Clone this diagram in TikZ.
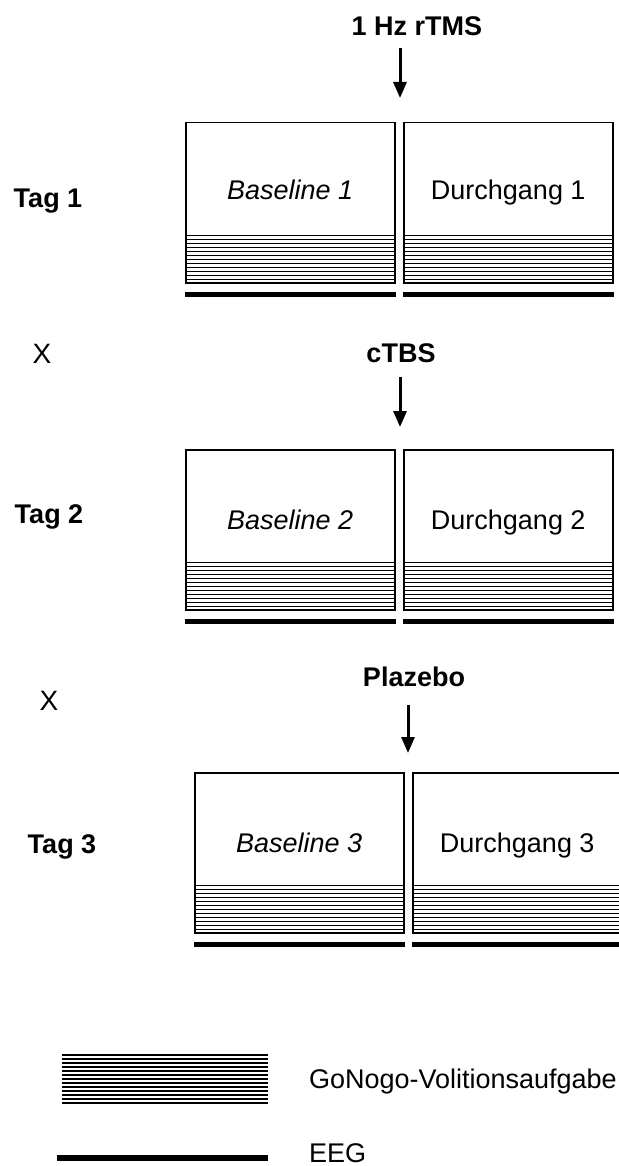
\documentclass[tikz,border=0pt]{standalone}
\usepackage{fontspec}
\setmainfont{Liberation Sans}
\usetikzlibrary{arrows.meta}

\begin{document}
\begin{tikzpicture}[x=0.5pt, y=-0.5pt,
  every node/.style={font=\fontsize{13.5}{16}\selectfont},
  block/.style={draw, line width=0.75pt, fill=white, inner sep=0pt,
    minimum width=104.5pt, minimum height=80pt, anchor=north west},
  hline/.style={line width=0.8pt},
  eeg/.style={line width=2.8pt},
  pfeil/.style={-{Triangle[width=6.5pt,length=8pt]}, line width=1.5pt},
  tag/.style={font=\fontsize{13.5}{16}\selectfont\bfseries, anchor=base},
  txt/.style={anchor=base}]
\useasboundingbox (0,0) rectangle (619,1166);
\clip (0,0) rectangle (619,1166);

% Tag 1
\node[tag] (stim1) at (417,36) {1 Hz rTMS};
\coordinate (s1) at (400,48);
\coordinate (e1) at (400,98);
\draw[pfeil] (s1) -- (e1);
\node[tag] (tag1) at (48,208) {Tag 1};
\node[block] (b11) at (185,122) {};
\node[block] (b12) at (403,122) {};

\node[txt, font=\fontsize{14}{16}\selectfont] (x1) at (42,363) {X};

% Tag 2
\node[tag] (stim2) at (401,362) {cTBS};
\coordinate (s2) at (400,377);
\coordinate (e2) at (400,427);
\draw[pfeil] (s2) -- (e2);
\node[tag] (tag2) at (49,523) {Tag 2};
\node[block] (b21) at (185,449) {};
\node[block] (b22) at (403,449) {};

\node[txt, font=\fontsize{14}{16}\selectfont] (x2) at (49,710) {X};

% Tag 3
\node[tag] (stim3) at (414,686) {Plazebo};
\coordinate (s3) at (408,705);
\coordinate (e3) at (408,753);
\draw[pfeil] (s3) -- (e3);
\node[tag] (tag3) at (62,853) {Tag 3};
\node[block] (b31) at (194,772) {};
\node[block] (b32) at (412,772) {};

% Aufgabe (schraffiert) und EEG-Balken
\foreach \b in {b11,b12,b21,b22,b31,b32} {
  \foreach \k in {0,...,12}
    \draw[hline] ([yshift=\k*2pt]\b.south west) -- ([yshift=\k*2pt]\b.south east);
  \draw[eeg] ([yshift=-5.5pt]\b.south west) -- ([yshift=-5.5pt]\b.south east);
}

\node[txt] (t11) at ([yshift=-39pt]b11.north) {\itshape Baseline 1};
\node[txt] (t12) at ([yshift=-39pt]b12.north) {Durchgang 1};
\node[txt] (t21) at ([yshift=-40pt]b21.north) {\itshape Baseline 2};
\node[txt] (t22) at ([yshift=-40pt]b22.north) {Durchgang 2};
\node[txt] (t31) at ([yshift=-40pt]b31.north) {\itshape Baseline 3};
\node[txt] (t32) at ([yshift=-40pt]b32.north) {Durchgang 3};

% Legende
\foreach \k in {0,...,12}
  \draw[hline] (62,1055+4*\k) -- (268,1055+4*\k);
\node[anchor=base west] (leg1) at (302,1088) {GoNogo-Volitionsaufgabe};
\draw[line width=3pt] (57,1158) -- (268,1158);
\node[anchor=base west] (leg2) at (302,1162) {EEG};
\end{tikzpicture}
\end{document}
